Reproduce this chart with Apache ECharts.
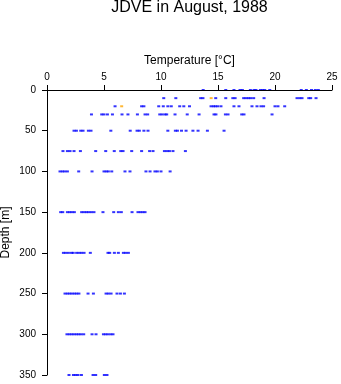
<!DOCTYPE html>
<html><head><meta charset="utf-8">
<script src="https://cdn.jsdelivr.net/npm/echarts@6/dist/echarts.min.js"></script>
<style>html,body{margin:0;padding:0;background:#fff}#c{width:341px;height:384px}</style>
</head><body><div id="c"></div>
<script>
const titleText = "JDVE in August, 1988";
const xName = "Temperature [°C]";
const yName = "Depth [m]";
const xTicks = [0, 5, 10, 15, 20, 25];
const yTicks = [0, 50, 100, 150, 200, 250, 300, 350];
const depths = [0, 10, 20, 30, 50, 75, 100, 150, 200, 250, 300, 350];
const temps0 = [13.7, 15.68, 16.4, 16.93, 17.14, 17.84, 18.16, 18.33, 18.72, 18.92, 19.1, 19.54, 22.3, 22.75, 23.2, 23.54, 23.8];
const temps10 = [10.24, 11.3, 13.48, 13.68, 14.8, 15.68, 16.3, 16.5, 17.25, 17.46, 17.67, 17.87, 18.13, 19.04, 21.93, 22.17, 22.37, 22.96, 23.13, 23.6];
const temps20 = [5.97, 8.3, 8.5, 9.8, 10.2, 10.6, 10.9, 11.64, 12.0, 12.5, 14.39, 14.6, 14.77, 14.97, 15.26, 16.4, 16.84, 17.98, 18.42, 18.77, 19.0, 20.0, 20.26, 20.85];
const temps30 = [3.9, 4.8, 5.0, 5.3, 5.74, 6.58, 7.1, 7.93, 8.6, 8.83, 9.89, 10.1, 10.35, 10.5, 11.23, 12.3, 13.34, 14.65, 14.82, 15.65, 15.88, 17.08, 17.28, 19.74];
const temps50 = [2.37, 2.58, 2.96, 3.16, 3.63, 3.86, 5.6, 7.3, 7.9, 8.1, 8.5, 8.86, 10.6, 11.26, 11.44, 11.8, 12.2, 12.8, 13.25, 14.07, 15.53];
const temps75 = [1.4, 1.79, 2.02, 2.37, 2.93, 4.27, 5.15, 5.9, 6.47, 6.67, 7.43, 8.3, 9.0, 9.3, 10.3, 10.53, 10.74, 11.05, 12.14];
const temps100 = [1.14, 1.35, 1.55, 1.79, 2.78, 3.95, 5.0, 5.2, 5.38, 5.68, 6.84, 7.28, 8.68, 9.04, 9.47, 9.68, 10.0, 10.8];
const temps150 = [1.2, 1.38, 1.79, 1.99, 2.19, 2.4, 3.04, 3.25, 3.46, 3.66, 3.89, 4.12, 4.91, 5.85, 6.26, 6.52, 7.46, 7.98, 8.19, 8.4, 8.6];
const temps200 = [1.44, 1.64, 1.88, 2.15, 2.3, 2.6, 2.81, 3.02, 3.25, 3.8, 5.35, 5.5, 5.91, 6.26, 6.7, 6.9, 7.14];
const temps250 = [1.58, 1.79, 1.99, 2.19, 2.4, 2.6, 2.8, 3.6, 4.07, 5.18, 5.38, 5.62, 6.14, 6.44, 6.79];
const temps300 = [1.75, 1.96, 2.17, 2.37, 2.58, 2.78, 2.98, 3.22, 3.95, 4.3, 4.95, 5.15, 5.35, 5.59, 5.79];
const temps350 = [1.93, 2.32, 2.52, 2.72, 3.02, 4.04, 4.27, 5.03, 5.26];
const orangeDepths = [10, 20];
const orangeTemps = [14.4, 6.55];

const rows = [temps0, temps10, temps20, temps30, temps50, temps75, temps100, temps150, temps200, temps250, temps300, temps350];
const blueData = [];
rows.forEach((r, i) => r.forEach(t => blueData.push([t, depths[i]])));
const orangeData = orangeTemps.map((t, i) => [t, orangeDepths[i]]);

const font = "'Liberation Sans', Arial, sans-serif";
const chart = echarts.init(document.getElementById('c'));
chart.setOption({
  animation: false,
  title: {text: titleText, left: 189.5, textAlign: 'center', top: 0, padding: 0,
    textStyle: {fontFamily: font, fontSize: 16, fontWeight: 'normal', color: '#000'}},
  grid: {left: 47, right: 9, top: 90, bottom: 9, outerBoundsMode: 'none'},
  xAxis: {type: 'value', position: 'top', min: xTicks[0], max: xTicks[xTicks.length - 1], interval: 5,
    name: xName, nameLocation: 'middle', nameGap: 22,
    nameTextStyle: {fontFamily: font, fontSize: 12, color: '#000'},
    axisLine: {show: true, lineStyle: {color: '#000', width: 1}},
    axisTick: {show: true, length: 5, lineStyle: {color: '#000', width: 1}},
    axisLabel: {fontFamily: font, fontSize: 10, color: '#000', margin: 8},
    splitLine: {show: false}},
  yAxis: {type: 'value', inverse: true, min: yTicks[0], max: yTicks[yTicks.length - 1], interval: 50,
    name: yName, nameLocation: 'middle', nameGap: 35, nameRotate: 90, nameMoveOverlap: false,
    nameTextStyle: {fontFamily: font, fontSize: 12, color: '#000'},
    axisLine: {show: true, lineStyle: {color: '#000', width: 1}},
    axisTick: {show: true, length: 5, lineStyle: {color: '#000', width: 1}},
    axisLabel: {fontFamily: font, fontSize: 10, color: '#000', margin: 11},
    splitLine: {show: false}},
  series: [
    {type: 'scatter', data: blueData, symbol: 'rect', symbolSize: [3, 2],
      itemStyle: {color: '#0000ff'},
      markLine: {silent: true, symbol: 'none', label: {show: false}, animation: false,
        lineStyle: {color: '#000', width: 1, type: 'solid'},
        data: [{yAxis: yTicks[0]}, {xAxis: xTicks[0]}]}},
    {type: 'scatter', data: orangeData, symbol: 'rect', symbolSize: [3, 2],
      itemStyle: {color: '#ffa500'}}
  ]
});
</script></body></html>
